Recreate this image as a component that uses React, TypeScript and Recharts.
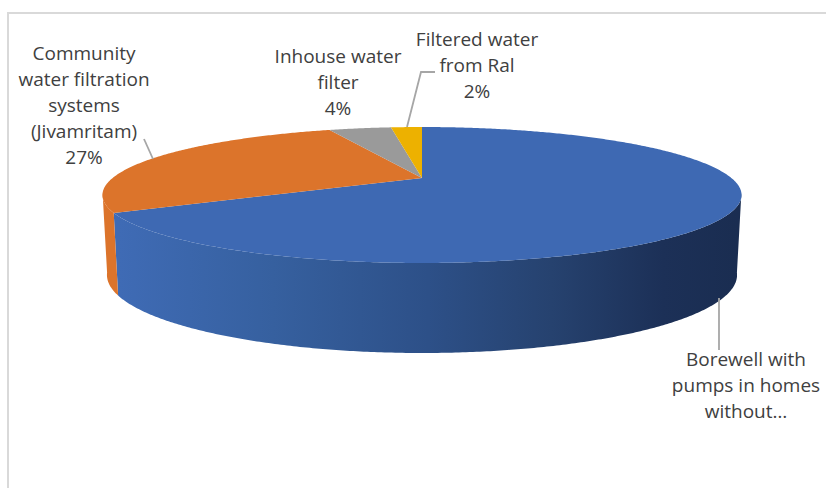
import { Pie, PieChart } from "recharts";

const sourceNames = [
  "Borewell with pumps in homes without...",
  "Community water filtration systems (Jivamritam)",
  "Inhouse water filter",
  "Filtered water from Ral",
];
const sourceShares = [67, 27, 4, 2];
const sourceColors = ["#3e69b3", "#dc742b", "#9a9a9a", "#edb100"];

// wrapped label text, the share is appended where it is shown
const labelLines = [
  ["Borewell with", "pumps in homes", "without…"],
  ["Community", "water filtration", "systems", "(Jivamritam)", "27%"],
  ["Inhouse water", "filter", "4%"],
  ["Filtered water", "from Ral", "2%"],
];
const labelAnchors = [
  { x: 746, y: 366 },
  { x: 84, y: 60 },
  { x: 338, y: 63 },
  { x: 477, y: 46 },
];
const leaderLines = [
  "M719,298 L719,350",
  "M153,159 L144,139",
  "",
  "M407,127 L421,72 L435,72",
];

const chartData = sourceNames.map((name, i) => ({
  name,
  value: sourceShares[i],
  fill: sourceColors[i],
}));

const WIDTH = 826;
const HEIGHT = 488;
const PIE_CX = 422;
const PIE_CY = 178;
const PIE_RADIUS = 309.4;

// tilted disc: the apex sits behind the middle of the top ellipse
const TILT = 0.206;
const PERSPECTIVE = 0.25;
const RIM_CY = 195;
const RIM_RY = 68;
const RIM_RX = 319.5;
const BASE_CY = 275;
const BASE_RY = 78;
const BASE_RX = 315;

type Pt = { x: number; y: number };

function rimPoint(cx: number, cy: number, r: number, angle: number): Pt {
  const rad = (angle * Math.PI) / 180;
  const u = Math.cos(rad);
  const v = -Math.sin(rad);
  const d = 1 - PERSPECTIVE * v;
  return { x: cx + (r * u) / d, y: cy + (r * TILT * v) / d };
}

function basePoint(cx: number, p: Pt): Pt {
  return {
    x: cx + ((p.x - cx) * BASE_RX) / RIM_RX,
    y: BASE_CY + ((p.y - RIM_CY) * BASE_RY) / RIM_RY,
  };
}

function toPath(points: Pt[]) {
  return points.map((p, i) => `${i ? "L" : "M"}${p.x.toFixed(2)},${p.y.toFixed(2)}`).join(" ") + " Z";
}

function Slice3D(props: any) {
  const { cx, cy, outerRadius, startAngle, endAngle, fill } = props;
  const rim: Pt[] = [];
  const steps = Math.max(4, Math.ceil(Math.abs(endAngle - startAngle) * 2));
  for (let i = 0; i <= steps; i++) {
    rim.push(rimPoint(cx, cy, outerRadius, startAngle + ((endAngle - startAngle) * i) / steps));
  }
  // only the part of the rim facing the viewer gets a wall
  const front = rim.filter((p) => p.y >= RIM_CY - 2);
  const isBlue = fill === sourceColors[0];
  return (
    <g>
      <defs>
        <linearGradient id="borewellWall" gradientUnits="userSpaceOnUse" x1={119} y1={0} x2={737} y2={0}>
          <stop offset="0" stopColor="#3f6bb5" />
          <stop offset="0.25" stopColor="#36609f" />
          <stop offset="0.5" stopColor="#2d5088" />
          <stop offset="0.7" stopColor="#26426f" />
          <stop offset="0.88" stopColor="#1c3057" />
          <stop offset="1" stopColor="#1a2d51" />
        </linearGradient>
      </defs>
      {front.length > 1 && (
        <path
          d={toPath([...front, ...front.map((p) => basePoint(cx, p)).reverse()])}
          fill={isBlue ? "url(#borewellWall)" : fill}
        />
      )}
      <path d={toPath([{ x: cx, y: cy }, ...rim])} fill={fill} />
    </g>
  );
}

function SliceLabel(props: any) {
  const { index } = props;
  const anchor = labelAnchors[index];
  return (
    <g>
      {leaderLines[index] && (
        <path d={leaderLines[index]} fill="none" stroke="#a6a6a6" strokeWidth={1.8} />
      )}
      <text
        x={anchor.x}
        y={anchor.y}
        textAnchor="middle"
        fill="#404040"
        fontSize={19}
        fontFamily="'Open Sans', sans-serif"
      >
        {labelLines[index].map((line, i) => (
          <tspan key={line} x={anchor.x} y={anchor.y + i * 26}>
            {line}
          </tspan>
        ))}
      </text>
    </g>
  );
}

export default function App() {
  return (
    <div style={{ position: "absolute", left: 0, top: 0, width: WIDTH, height: HEIGHT, background: "#fff", overflow: "hidden" }}>
      {/* chart frame, its right and bottom edges run past the page */}
      <div
        style={{
          position: "absolute",
          left: 7,
          top: 12,
          width: WIDTH,
          height: HEIGHT,
          border: "2px solid #d9d9d9",
        }}
      />
      <div style={{ position: "absolute", left: 0, top: 0 }}>
        <PieChart width={WIDTH} height={HEIGHT} margin={{ top: 0, right: 0, bottom: 0, left: 0 }}>
          <Pie
            data={chartData}
            dataKey="value"
            nameKey="name"
            cx={PIE_CX}
            cy={PIE_CY}
            innerRadius={0}
            outerRadius={PIE_RADIUS}
            startAngle={90}
            endAngle={-270}
            stroke="none"
            shape={Slice3D}
            label={SliceLabel}
            labelLine={false}
            isAnimationActive={false}
          />
        </PieChart>
      </div>
    </div>
  );
}
